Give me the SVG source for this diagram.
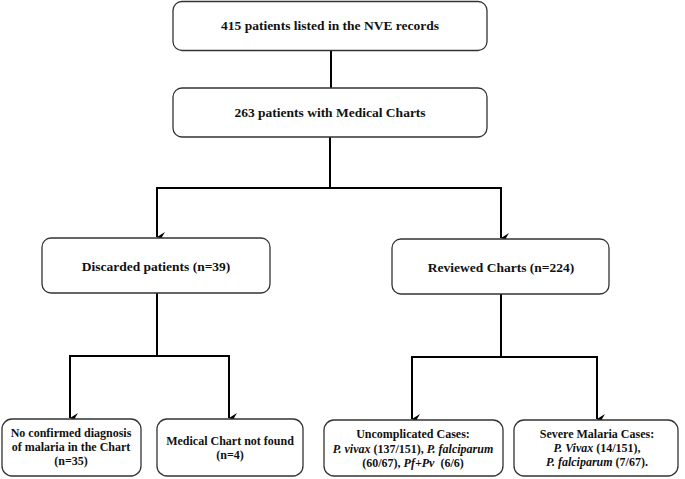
<svg xmlns="http://www.w3.org/2000/svg" width="685" height="479" viewBox="0 0 685 479">
<style>
.box{fill:#fff;stroke:#333;stroke-width:1.3}
.t{font-family:"Liberation Serif","Times New Roman",serif;font-weight:bold;fill:#111;text-anchor:middle}
.m{font-size:13.5px}
.s{font-size:12px}
.i{font-style:italic}
.c{fill:none;stroke:#000;stroke-width:2}
</style>
<defs>
<marker id="ah" viewBox="0 0 10 10" refX="5" refY="10" markerWidth="10" markerHeight="10" markerUnits="userSpaceOnUse" orient="auto-start-reverse">
<path d="M0,2 L5,10 L10,2 L5,5 Z" fill="#000"/>
</marker>
</defs>
<rect width="685" height="479" fill="#fff"/>
<g id="connectors">
<line class="c" x1="331" y1="50" x2="331" y2="88"/>
<polyline class="c" points="330,137 330,188"/>
<polyline class="c" points="157,188 501,188"/>
<line class="c" x1="157" y1="187" x2="157" y2="237" marker-end="url(#ah)"/>
<line class="c" x1="501" y1="187" x2="501" y2="238" marker-end="url(#ah)"/>
<line class="c" x1="157" y1="293" x2="157" y2="356"/>
<polyline class="c" points="70,356 229,356"/>
<line class="c" x1="70" y1="355" x2="70" y2="418" marker-end="url(#ah)"/>
<line class="c" x1="229" y1="355" x2="229" y2="418" marker-end="url(#ah)"/>
<line class="c" x1="501" y1="294" x2="501" y2="357"/>
<polyline class="c" points="412,357 597,357"/>
<line class="c" x1="412" y1="356" x2="412" y2="419" marker-end="url(#ah)"/>
<line class="c" x1="597" y1="356" x2="597" y2="419" marker-end="url(#ah)"/>
</g>
<g id="n1">
<rect class="box" x="173" y="1.5" width="314" height="49" rx="9"/>
<text class="t m" x="330" y="30">415 patients listed in the NVE records</text>
</g>
<g id="n2">
<rect class="box" x="173" y="88" width="314" height="49" rx="9"/>
<text class="t m" x="330" y="117">263 patients with Medical Charts</text>
</g>
<g id="n3">
<rect class="box" x="42" y="238" width="228" height="55" rx="9"/>
<text class="t m" x="156" y="271">Discarded patients (n=39)</text>
</g>
<g id="n4">
<rect class="box" x="392" y="239" width="217" height="55" rx="9"/>
<text class="t m" x="501" y="272">Reviewed Charts (n=224)</text>
</g>
<g id="n5">
<rect class="box" x="2" y="419" width="139" height="57" rx="10"/>
<text class="t s" x="71" y="437">No confirmed diagnosis</text>
<text class="t s" x="71" y="451">of malaria in the Chart</text>
<text class="t s" x="71" y="465">(n=35)</text>
</g>
<g id="n6">
<rect class="box" x="157" y="419" width="146" height="57" rx="10"/>
<text class="t s" x="230" y="445">Medical Chart not found</text>
<text class="t s" x="230" y="459">(n=4)</text>
</g>
<g id="n7">
<rect class="box" x="324" y="420" width="179" height="56" rx="10"/>
<text class="t s" x="413" y="438">Uncomplicated Cases:</text>
<text class="t s" x="413" y="453"><tspan class="i">P. vivax</tspan> (137/151), <tspan class="i">P. falciparum</tspan></text>
<text class="t s" x="413" y="467" xml:space="preserve">(60/67), <tspan class="i">Pf+Pv</tspan>  (6/6)</text>
</g>
<g id="n8">
<rect class="box" x="514" y="420" width="164" height="56" rx="10"/>
<text class="t s" x="597" y="438">Severe Malaria Cases:</text>
<text class="t s" x="597" y="452"><tspan class="i">P. Vivax</tspan> (14/151),</text>
<text class="t s" x="597" y="466"><tspan class="i">P. falciparum</tspan> (7/67).</text>
</g>
</svg>
